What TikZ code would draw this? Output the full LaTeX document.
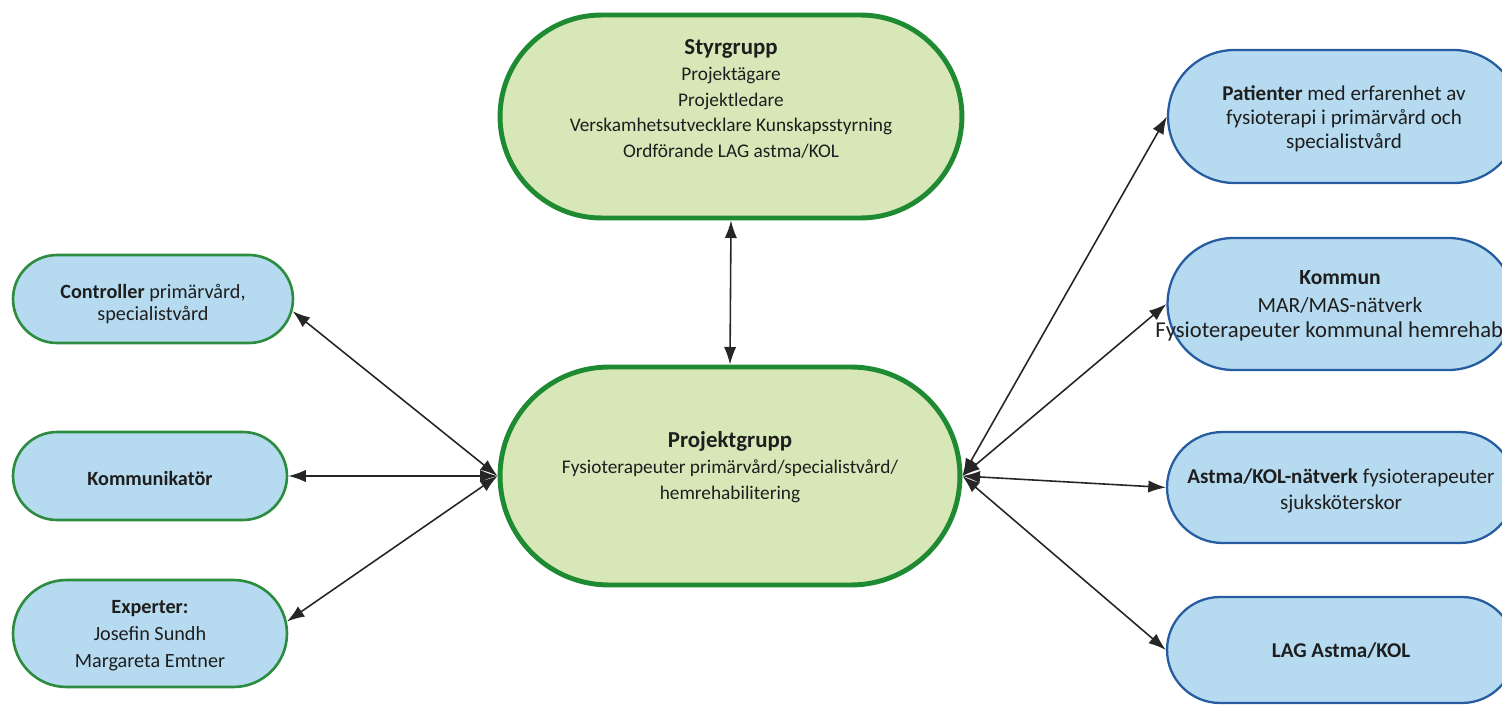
\documentclass[tikz,border=0pt]{standalone}
\usepackage{fontspec}
\setmainfont{Carlito}
\usetikzlibrary{shapes.misc,arrows.meta}
\definecolor{gfill}{RGB}{216,231,184}
\definecolor{gline}{RGB}{30,138,50}
\definecolor{lgline}{RGB}{44,140,64}
\definecolor{bfill}{RGB}{182,219,240}
\definecolor{bline}{RGB}{38,92,160}
\definecolor{tcol}{RGB}{30,30,30}
\begin{document}
\begin{tikzpicture}[x=0.02cm,y=-0.02cm,
  bigbox/.style={rounded rectangle, draw=gline, fill=gfill, line width=2.8pt, inner sep=0pt},
  leftbox/.style={rounded rectangle, draw=lgline, fill=bfill, line width=1.5pt, inner sep=0pt},
  rightbox/.style={rounded rectangle, draw=bline, fill=bfill, line width=1.3pt, inner sep=0pt},
  txt/.style={align=center, text=tcol, inner sep=0pt},
  link/.style={{Latex[length=10pt,width=7pt]}-{Latex[length=10pt,width=7pt]}, line width=0.9pt, draw=black!85}
]
\useasboundingbox (0,0) rectangle (1502,706);
\clip (0,0) rectangle (1502,706);

% green boxes
\node[bigbox, minimum width=9.24cm, minimum height=4.06cm] (styr) at (731,116.5) {};
\node[txt, font=\fontsize{11}{14.6}\selectfont] (styrtxt) at (731,99)
  {{\fontsize{13}{14.6}\selectfont\bfseries Styrgrupp}\\ Projektägare\\ Projektledare\\ Verskamhetsutvecklare Kunskapsstyrning\\ Ordförande LAG astma/KOL};

\node[bigbox, minimum width=9.2cm, minimum height=4.36cm] (pg) at (730,476) {};
\node[txt, font=\fontsize{11}{14.6}\selectfont] (pgtxt) at (730,467)
  {{\fontsize{13}{15.5}\selectfont\bfseries Projektgrupp}\\ Fysioterapeuter primärvård/specialistvård/\\ hemrehabilitering};

% left boxes
\node[leftbox, minimum width=5.6cm, minimum height=1.76cm] (ctrl) at (153,299) {};
\node[txt, font=\fontsize{11.5}{12}\selectfont] (ctrltxt) at (153,304)
  {\textbf{Controller} primärvård,\\ specialistvård};

\node[leftbox, minimum width=5.48cm, minimum height=1.76cm] (komm) at (150,476) {};
\node[txt, font=\fontsize{11.5}{14}\selectfont\bfseries] (kommtxt) at (150,478) {Kommunikatör};

\node[leftbox, minimum width=5.48cm, minimum height=2.14cm] (expt) at (150,633.5) {};
\node[txt, font=\fontsize{11.5}{15.3}\selectfont] (expttxt) at (150,636)
  {\textbf{Experter:}\\ Josefin Sundh\\ Margareta Emtner};

% right boxes
\node[rightbox, minimum width=7.04cm, minimum height=2.66cm] (pat) at (1344,116.5) {};
\node[txt, font=\fontsize{12}{13.8}\selectfont] (pattxt) at (1344,119)
  {\textbf{Patienter} med erfarenhet av\\ fysioterapi i primärvård och\\ specialistvård};

\node[rightbox, minimum width=6.94cm, minimum height=2.64cm] (kmn) at (1341,304) {};
\node[txt, font=\fontsize{12.3}{15.5}\selectfont] (kmntxt) at (1340,292)
  {\textbf{Kommun}\\ MAR/MAS-nätverk};
\node[txt, font=\fontsize{12.9}{15}\selectfont, anchor=west] (kmntxt2) at (1155,331)
  {Fysioterapeuter kommunal hemrehab};

\node[rightbox, minimum width=6.96cm, minimum height=2.22cm] (ast) at (1341,487.5) {};
\node[txt, font=\fontsize{12}{15}\selectfont] (asttxt) at (1341,491)
  {\textbf{Astma/KOL-nätverk} fysioterapeuter\\ sjuksköterskor};

\node[rightbox, minimum width=6.96cm, minimum height=2.12cm] (lag) at (1341,650) {};
\node[txt, font=\fontsize{12}{15}\selectfont\bfseries] (lagtxt) at (1341,651) {LAG Astma/KOL};

% connectors
\draw[link] (styr.south) -- (pg.north);
\draw[link] (pg.west) -- (ctrl.-5);
\draw[link] (pg.west) -- (komm.east);
\draw[link] (pg.west) -- (expt.5);
\draw[link] (pg.east) -- (pat.west);
\draw[link] (pg.east) -- (kmn.west);
\draw[link] (pg.east) -- (ast.west);
\draw[link] (pg.east) -- (lag.west);
\end{tikzpicture}
\end{document}
